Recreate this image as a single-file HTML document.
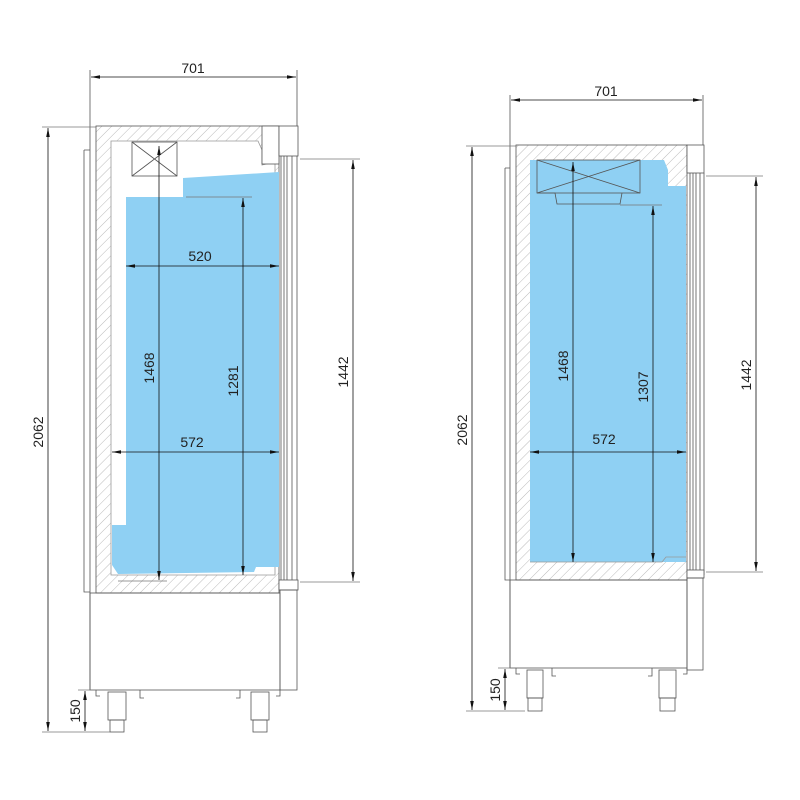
<!DOCTYPE html>
<html><head><style>body{margin:0;background:#fff}svg{display:block}text{font-family:"Liberation Sans",sans-serif;font-size:14px;fill:#222}</style></head><body>
<svg width="800" height="800" viewBox="0 0 800 800" xmlns="http://www.w3.org/2000/svg">
<defs>
<pattern id="h" width="7" height="7" patternUnits="userSpaceOnUse" patternTransform="rotate(45)"><line x1="0" y1="0" x2="0" y2="7" stroke="#bbb" stroke-width="1"/></pattern>
<marker id="a" viewBox="0 0 10 10" refX="10" refY="5" markerWidth="9" markerHeight="9" orient="auto-start-reverse" markerUnits="userSpaceOnUse"><path d="M0,3 L10,5 L0,7z" fill="#111"/></marker>
</defs>
<g stroke="#555" stroke-width="0.8" fill="none">
<rect x="96" y="126" width="183" height="467" fill="url(#h)"/>
<path d="M111,141 H258 L262,150 V165 L275,162 V575 H111 Z" fill="#fff" stroke="#999"/>
<path d="M126,197 H183 V178 L279,172 V567 H256 L254,572 L118,574 L112,565 V525 H126 Z" fill="#8fd0f3" stroke="none"/>
<rect x="262" y="126" width="17" height="38" fill="#fff"/>
<rect x="132" y="142" width="45" height="34"/><path d="M132,142 L177,176 M177,142 L132,176"/>
<rect x="279" y="126" width="19" height="30" fill="#fff"/>
<path d="M281,156 V585 M284,156 V585 M287,156 V585 M292,156 V585 M297,156 V585"/>
<rect x="279" y="580" width="19" height="10" fill="#fff"/>
<path d="M90,70 V690 M297,70 V126 M84,150 H90 M84,150 V592 H90"/>
<rect x="90" y="593" width="190" height="97"/>
<rect x="280" y="590" width="17" height="100"/>
<rect x="108" y="692" width="18" height="28"/><rect x="110" y="720" width="14" height="12"/>
<rect x="251" y="692" width="18" height="28"/><rect x="253" y="720" width="14" height="12"/>
<path d="M96,690 V696 H100 M140,690 V698 H144 M240,690 V698 H236 M280,690 V696 H276"/>
<path d="M300,159 H360 M300,582 H360 M42,127 H96 M42,732 H110 M78,690 H96 M186,197 H252 M118,581 H167" stroke="#777"/>
</g>
<g stroke="#111" stroke-width="0.8" fill="none">
<line x1="91" y1="77" x2="296" y2="77" marker-start="url(#a)" marker-end="url(#a)"/>
<line x1="126" y1="266" x2="279" y2="266" marker-start="url(#a)" marker-end="url(#a)"/>
<line x1="112" y1="452" x2="279" y2="452" marker-start="url(#a)" marker-end="url(#a)"/>
<line x1="159" y1="146" x2="159" y2="580" marker-start="url(#a)" marker-end="url(#a)"/>
<line x1="243" y1="198" x2="243" y2="575" marker-start="url(#a)" marker-end="url(#a)"/>
<line x1="353" y1="160" x2="353" y2="581" marker-start="url(#a)" marker-end="url(#a)"/>
<line x1="48" y1="128" x2="48" y2="731" marker-start="url(#a)" marker-end="url(#a)"/>
<line x1="85" y1="691" x2="85" y2="731" marker-start="url(#a)" marker-end="url(#a)"/>
</g>
<text x="193" y="73" text-anchor="middle">701</text>
<text x="200" y="261" text-anchor="middle">520</text>
<text x="192" y="447" text-anchor="middle">572</text>
<text transform="translate(154,368) rotate(-90)" text-anchor="middle">1468</text>
<text transform="translate(238,381) rotate(-90)" text-anchor="middle">1281</text>
<text transform="translate(348,372) rotate(-90)" text-anchor="middle">1442</text>
<text transform="translate(43,432) rotate(-90)" text-anchor="middle">2062</text>
<text transform="translate(80,711) rotate(-90)" text-anchor="middle">150</text>

<g stroke="#555" stroke-width="0.8" fill="none">
<rect x="516" y="145" width="171" height="435" fill="url(#h)"/>
<path d="M530,160 H664 L668,170 V186 H686 V562 H530 Z" fill="#8fd0f3" stroke="none"/>
<path d="M530,562 H662 L666,557 H686" stroke="#999"/>
<rect x="537" y="160" width="103" height="33"/><path d="M537,160 L640,193 M640,160 L537,193 M537,193 H555 L557,204 H620 L622,193"/>
<rect x="687" y="145" width="17" height="28" fill="#fff"/>
<path d="M690,173 V575 M693,173 V575 M696,173 V575 M700,173 V575 M704,173 V575"/>
<rect x="687" y="570" width="17" height="8" fill="#fff"/>
<path d="M510,95 V668 M703,95 V145 M505,168 H510 M505,168 V580 H510"/>
<rect x="510" y="580" width="177" height="88"/>
<rect x="687" y="578" width="16" height="92"/>
<rect x="527" y="670" width="16" height="28"/><rect x="528" y="698" width="14" height="13"/>
<rect x="659" y="670" width="17" height="28"/><rect x="660" y="698" width="15" height="13"/>
<path d="M516,668 V674 H520 M552,668 V676 H556 M652,668 V676 H648 M687,668 V674 H683"/>
<path d="M706,176 H763 M706,572 H763 M466,146 H516 M466,711 H525 M498,668 H516 M620,205 H662" stroke="#777"/>
</g>
<g stroke="#111" stroke-width="0.8" fill="none">
<line x1="511" y1="100" x2="702" y2="100" marker-start="url(#a)" marker-end="url(#a)"/>
<line x1="530" y1="452" x2="686" y2="452" marker-start="url(#a)" marker-end="url(#a)"/>
<line x1="573" y1="162" x2="573" y2="562" marker-start="url(#a)" marker-end="url(#a)"/>
<line x1="653" y1="206" x2="653" y2="562" marker-start="url(#a)" marker-end="url(#a)"/>
<line x1="756" y1="177" x2="756" y2="571" marker-start="url(#a)" marker-end="url(#a)"/>
<line x1="472" y1="147" x2="472" y2="710" marker-start="url(#a)" marker-end="url(#a)"/>
<line x1="505" y1="669" x2="505" y2="710" marker-start="url(#a)" marker-end="url(#a)"/>
</g>
<text x="606" y="96" text-anchor="middle">701</text>
<text x="604" y="444" text-anchor="middle">572</text>
<text transform="translate(568,366) rotate(-90)" text-anchor="middle">1468</text>
<text transform="translate(648,387) rotate(-90)" text-anchor="middle">1307</text>
<text transform="translate(751,375) rotate(-90)" text-anchor="middle">1442</text>
<text transform="translate(467,430) rotate(-90)" text-anchor="middle">2062</text>
<text transform="translate(500,690) rotate(-90)" text-anchor="middle">150</text>
</svg>
</body></html>
